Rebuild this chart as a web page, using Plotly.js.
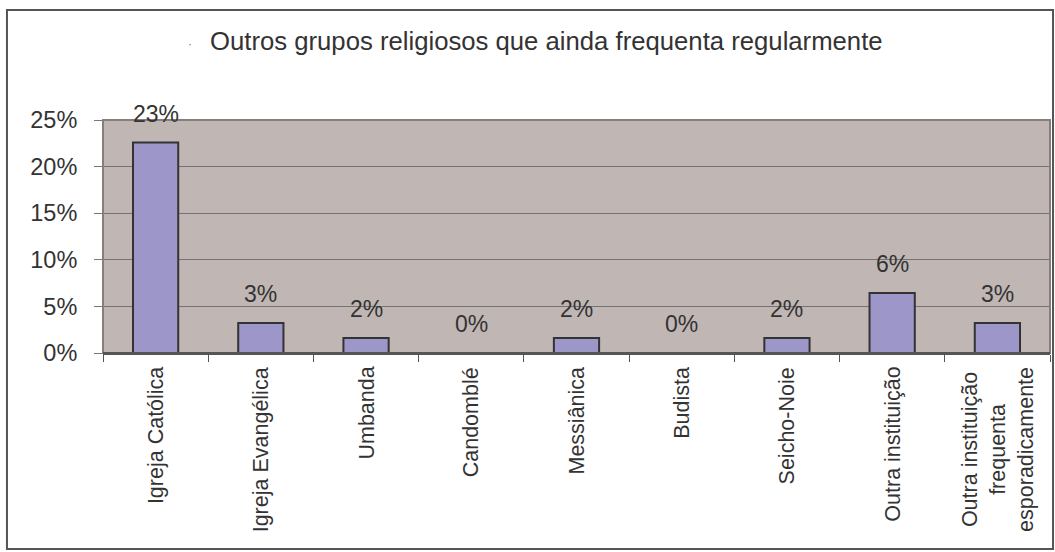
<!DOCTYPE html>
<html>
<head>
<meta charset="utf-8">
<script src="https://cdn.plot.ly/plotly-3.0.1.min.js"></script>
<style>
html,body{margin:0;padding:0;background:#fff;}
#chart{width:1055px;height:552px;}
</style>
</head>
<body>
<div id="chart"></div>
<script>
const categories = [
  "Igreja Católica",
  "Igreja Evangélica",
  "Umbanda",
  "Candomblé",
  "Messiânica",
  "Budista",
  "Seicho-Noie",
  "Outra instituição",
  "Outra instituição<br>frequenta<br>esporadicamente"
];
const values = [22.58, 3.23, 1.61, 0, 1.61, 0, 1.61, 6.45, 3.23];
const valueLabels = ["23%", "3%", "2%", "0%", "2%", "0%", "2%", "6%", "3%"];
const titleText = "Outros grupos religiosos que ainda frequenta regularmente";

const FONT = "Liberation Sans, Arial, sans-serif";
const TXT = "#333333";

const annotations = [];
categories.forEach((c, i) => {
  annotations.push({
    x: i, y: values[i], xref: "x", yref: "y",
    text: valueLabels[i], showarrow: false,
    yanchor: "bottom", yshift: 14,
    font: {family: FONT, size: 23, color: TXT}
  });
  annotations.push({
    x: i, y: 0, xref: "x", yref: "paper",
    text: c, showarrow: false, textangle: -90,
    yanchor: "top", xanchor: "center", align: "center", yshift: -12,
    font: {family: FONT, size: 21.5, color: TXT}
  });
});

annotations.push(
  {xref: "paper", yref: "paper", x: (208 - 103) / 947, y: (353 - 41) / 233,
   xanchor: "left", yanchor: "middle", showarrow: false,
   text: titleText, font: {family: FONT, size: 25.7, color: TXT}},
  {xref: "paper", yref: "paper", x: (190 - 103) / 947, y: (353 - 44) / 233,
   xanchor: "center", yanchor: "middle", showarrow: false,
   text: "·", font: {family: FONT, size: 12, color: "#777"}}
);

const layout = {
  width: 1055, height: 552,
  margin: {l: 103, r: 5, t: 120, b: 199},
  paper_bgcolor: "#ffffff",
  plot_bgcolor: "#c0b7b4",
  showlegend: false,
  bargap: 0.57,
  font: {family: FONT, color: TXT},
  xaxis: {
    type: "category",
    range: [-0.5, categories.length - 0.5],
    showticklabels: false,
    ticks: "outside", ticklen: 7, tickcolor: "#555", tickwidth: 1,
    tickson: "boundaries",
    showgrid: false,
    showline: true, linecolor: "#555", linewidth: 2,
    zeroline: false, fixedrange: true
  },
  yaxis: {
    range: [0, 25], dtick: 5, tick0: 0,
    ticksuffix: "%",
    ticks: "outside", ticklen: 8, tickcolor: "#777", tickwidth: 1,
    ticklabelstandoff: 12,
    tickfont: {family: FONT, size: 23.5, color: TXT},
    showgrid: true, gridcolor: "#737373", gridwidth: 1,
    showline: false, zeroline: false, fixedrange: true
  },
  shapes: [
    {type: "rect", xref: "paper", yref: "paper", x0: 0, x1: 1, y0: 0, y1: 1,
     line: {color: "#877d7b", width: 2}, fillcolor: "rgba(0,0,0,0)", layer: "above"},
    {type: "rect", xref: "paper", yref: "paper", x0: -0.1014, x1: 1.0032, y0: -0.8412, y1: 1.4721,
     line: {color: "#555", width: 2}, fillcolor: "rgba(0,0,0,0)", layer: "below"},
    {type: "line", xref: "paper", yref: "paper", x0: 0, x1: 1, y0: 0, y1: 0,
     line: {color: "#555", width: 2}, layer: "above"}
  ],
  annotations: annotations
};

const trace = {
  type: "bar",
  x: categories,
  y: values,
  marker: {color: "#9d96c8", line: {color: "#333333", width: 2}},
  hoverinfo: "none"
};

Plotly.newPlot("chart", [trace], layout, {displayModeBar: false, staticPlot: true});
</script>
</body>
</html>
